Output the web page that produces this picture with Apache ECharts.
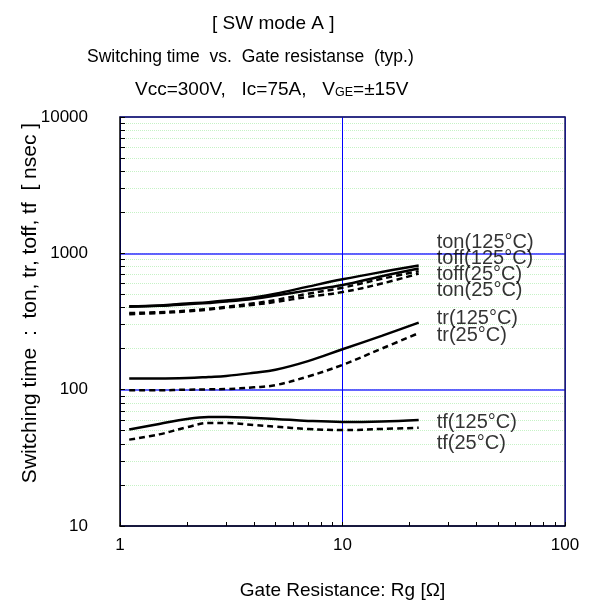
<!DOCTYPE html>
<html><head><meta charset="utf-8">
<script src="https://cdn.jsdelivr.net/npm/echarts@6/dist/echarts.min.js"></script>
<style>html,body{margin:0;padding:0;background:#fff}#c{width:605px;height:605px}</style>
</head><body><div id="c"></div>
<script>
const rg      = [1.1, 1.5, 2, 2.5, 3, 4, 5, 7, 10, 15, 22];
const ton125  = [409, 415, 428, 438, 450, 475, 505, 570, 645, 730, 813];
const toff125 = [405, 412, 423, 433, 443, 465, 490, 535, 585, 680, 775];
const toff25  = [365, 370, 380, 392, 405, 430, 455, 505, 560, 650, 740];
const ton25   = [358, 365, 375, 387, 400, 420, 440, 480, 520, 600, 710];
const tr125   = [121, 121, 122, 124, 126, 133, 140, 162, 198, 248, 310];
const tr25    = [99, 99, 100, 100.5, 101, 104, 108, 125, 152, 200, 260];
const tf125   = [51, 56, 61, 63, 63, 62, 61, 59, 58, 58.5, 60];
const tf25    = [43, 47, 53, 57, 57, 55, 53.5, 51.5, 50.5, 51.5, 52.5];

const labelNames = ['ton(125°C)', 'toff(125°C)', 'toff(25°C)', 'ton(25°C)', 'tr(125°C)', 'tr(25°C)', 'tf(125°C)', 'tf(25°C)'];
const labelX = 26.5;
const labelY = [1210, 910, 697, 532, 333, 250, 57.2, 40.3];

const xMajor = [1, 10, 100];
const xMinor = [1, 2, 3, 4, 5, 6, 7, 8, 9, 10, 20, 30, 40, 50, 60, 70, 80, 90, 100];
const yMajor = [10, 100, 1000, 10000];
const yMinor = [10, 20, 30, 40, 50, 60, 70, 80, 90, 100, 200, 300, 400, 500, 600, 700, 800, 900,
                1000, 2000, 3000, 4000, 5000, 6000, 7000, 8000, 9000, 10000];

const SANS = '"Liberation Sans", Arial, sans-serif';

function mk(arr, dashed) {
  return {
    type: 'line', smooth: 0.4, symbol: 'none', xAxisIndex: 0, yAxisIndex: 0,
    data: rg.map((x, i) => [x, arr[i]]),
    lineStyle: { color: '#000', width: 2.5, type: dashed ? [6, 4] : 'solid' },
    z: 5
  };
}

const chart = echarts.init(document.getElementById('c'), null, { renderer: 'canvas' });
chart.setOption({
  animation: false,
  backgroundColor: '#fff',
  title: [
    { text: '[ SW mode A ]', left: 212, top: 14, padding: 0, textStyle: { fontFamily: SANS, fontSize: 19, fontWeight: 'normal', color: '#000' } },
    { text: 'Switching time  vs.  Gate resistanse  (typ.)', left: 87, top: 48, padding: 0, textStyle: { fontFamily: SANS, fontSize: 17.5, fontWeight: 'normal', color: '#000' } },
    { text: '{a|Vcc=300V,   Ic=75A,   V}{s|GE}{a|=±15V}', left: 135, top: 77, padding: 0,
      textStyle: { fontWeight: 'normal', rich: {
        a: { fontFamily: SANS, fontSize: 19, fontWeight: 'normal', color: '#000', verticalAlign: 'bottom', lineHeight: 22 },
        s: { fontFamily: SANS, fontSize: 12.5, fontWeight: 'normal', color: '#000', verticalAlign: 'bottom', lineHeight: 19 } } } }
  ],
  grid: { left: 120, right: 40, top: 117, bottom: 76, show: false },
  xAxis: [
    { type: 'log', logBase: 10, min: 1, max: 100, position: 'bottom',
      axisLine: { show: true, lineStyle: { color: '#000', width: 1.5 } },
      axisTick: { show: true, inside: true, length: 4, customValues: xMinor, lineStyle: { color: '#000' } },
      axisLabel: { show: true, customValues: xMajor, margin: 11, fontFamily: SANS, fontSize: 17, color: '#000', formatter: v => String(v) },
      splitLine: { show: false },
      name: 'Gate Resistance: Rg [Ω]', nameLocation: 'middle', nameGap: 55,
      nameTextStyle: { fontFamily: SANS, fontSize: 19, color: '#000' } },
    { type: 'log', logBase: 10, min: 1, max: 100, position: 'top',
      axisLine: { show: true, lineStyle: { color: '#202060', width: 1.5 } },
      axisTick: { show: false }, axisLabel: { show: false },
      splitLine: { show: true, lineStyle: { color: '#0000ff', width: 1 } } }
  ],
  yAxis: [
    { type: 'log', logBase: 10, min: 10, max: 10000, position: 'left',
      axisLine: { show: true, lineStyle: { color: '#000', width: 1.5 } },
      axisTick: { show: true, inside: true, length: 5, customValues: yMinor, lineStyle: { color: '#000' } },
      axisLabel: { show: true, customValues: yMajor, margin: 32, fontFamily: SANS, fontSize: 17, color: '#000', formatter: v => String(v) },
      splitLine: { show: true, lineStyle: { color: '#c6f2c6', width: 1, type: 'dotted' } } },
    { type: 'log', logBase: 10, min: 10, max: 10000, position: 'right',
      axisLine: { show: true, lineStyle: { color: '#202060', width: 1.5 } },
      axisTick: { show: false }, axisLabel: { show: false },
      splitLine: { show: true, lineStyle: { color: '#3030ff', width: 1.5 } } }
  ],
  graphic: [
    { type: 'text', x: 30, y: 303, rotation: Math.PI / 2,
      style: { text: 'Switching time  :  ton, tr, toff, tf  [ nsec ]', fontFamily: SANS, fontSize: 21,
               fill: '#000', align: 'center', verticalAlign: 'middle' } }
  ],
  series: [
    mk(ton125, false), mk(toff125, false), mk(toff25, true), mk(ton25, true),
    mk(tr125, false), mk(tr25, true), mk(tf125, false), mk(tf25, true),
    { type: 'scatter', symbolSize: 0, xAxisIndex: 0, yAxisIndex: 0,
      data: labelNames.map((n, i) => ({ value: [labelX, labelY[i]], name: n })),
      label: { show: true, position: 'right', distance: 0, formatter: p => p.name,
               fontFamily: SANS, fontSize: 20, color: '#000' },
      z: 6 }
  ]
});
</script></body></html>
